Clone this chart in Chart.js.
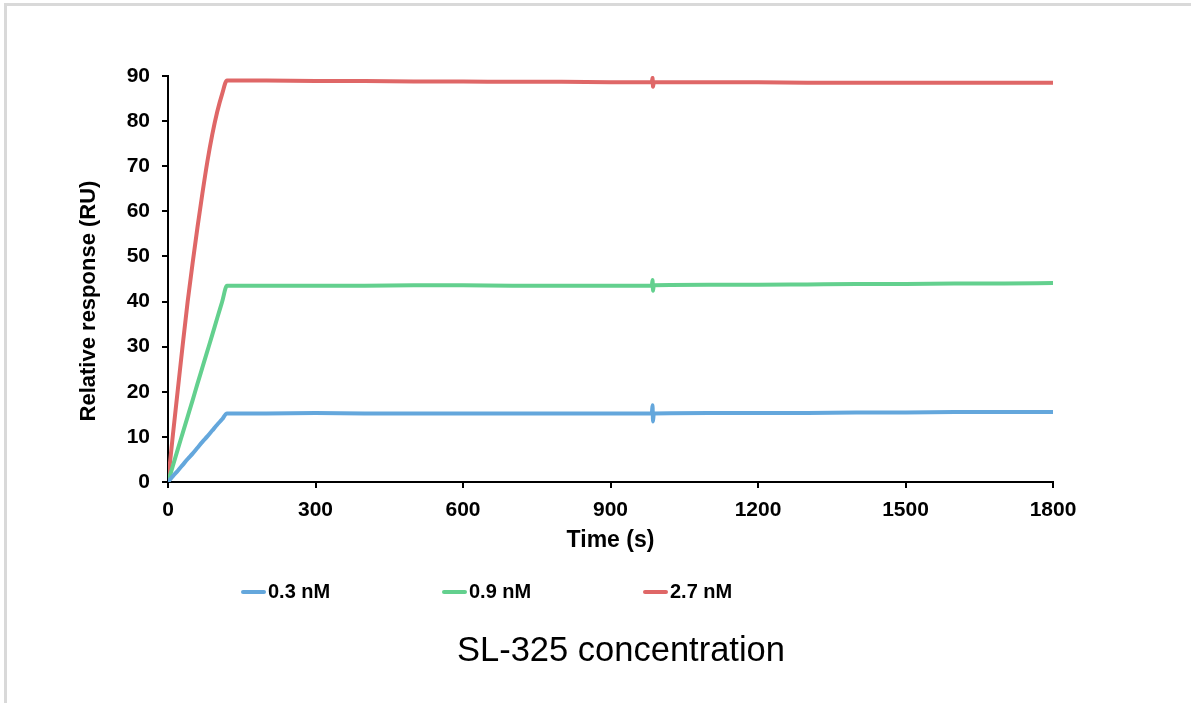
<!DOCTYPE html>
<html>
<head>
<meta charset="utf-8">
<script src="https://cdn.jsdelivr.net/npm/chart.js@4"></script>
<style>
  body { margin: 0; background: #fff; font-family: "Liberation Sans", Arial, sans-serif; }
  #wrap { position: relative; width: 1191px; height: 703px; overflow: hidden; }
  #frame { position: absolute; left: 4px; top: 3px; width: 1200px; height: 697px; border: 3px solid #d9d9d9; border-right: none; }
  canvas { position: absolute; left: 0; top: 0; }
  #legend { position: absolute; top: 578px; left: 0; width: 1191px; height: 26px; }
  .item { position: absolute; top: 0; font-weight: bold; font-size: 20px; line-height: 26px; color: #000; }
  .item span.sw { display: inline-block; width: 25px; height: 4px; border-radius: 2px; vertical-align: middle; margin-right: 2px; position: relative; top: -1px; }
  #sub { position: absolute; top: 630px; left: 0; width: 1242px; text-align: center; font-size: 34.5px; color: #000; }
</style>
</head>
<body>
<div id="wrap">
  <div id="frame"></div>
  <canvas id="myChart" width="1191" height="703"></canvas>
  <div id="legend"></div>
  <div id="sub">SL-325 concentration</div>
</div>
<script>
const times = [0, 10, 20, 30, 40, 50, 60, 70, 80, 90, 100, 110, 120, 200, 300, 400, 500, 600, 700, 800, 900, 984, 985.5, 986.5, 988, 1100, 1200, 1300, 1400, 1500, 1600, 1700, 1800];

const low = [0, 1.3, 2.5, 3.8, 5.1, 6.3, 7.6, 8.9, 10.1, 11.4, 12.7, 13.9, 15.2, 15.2, 15.3, 15.2, 15.2, 15.2, 15.2, 15.2, 15.2, 15.2, 17.0, 13.4, 15.2, 15.3, 15.3, 15.3, 15.4, 15.4, 15.5, 15.5, 15.5];
const mid = [0, 3.6, 7.3, 10.9, 14.5, 18.1, 21.8, 25.4, 29.0, 32.6, 36.3, 39.9, 43.5, 43.5, 43.5, 43.5, 43.6, 43.6, 43.5, 43.5, 43.5, 43.5, 44.8, 42.4, 43.6, 43.7, 43.7, 43.8, 43.9, 43.9, 44.0, 44.0, 44.1];
const high = [0, 10.5, 20.5, 30.5, 40, 48.5, 56.5, 64, 71, 77, 82, 86, 89.0, 89.0, 88.9, 88.9, 88.8, 88.8, 88.7, 88.7, 88.6, 88.6, 89.6, 87.6, 88.6, 88.6, 88.6, 88.5, 88.5, 88.5, 88.5, 88.5, 88.5];

const labels = ['0.3 nM', '0.9 nM', '2.7 nM'];
const colors = ['#64a7dc', '#63d08e', '#df6767'];
const yTicks = [0, 10, 20, 30, 40, 50, 60, 70, 80, 90];
const xTicks = [0, 300, 600, 900, 1200, 1500, 1800];

const series = [low, mid, high];

const chartData = {
  datasets: series.map((vals, i) => ({
    label: labels[i],
    data: times.map((t, j) => ({ x: t, y: vals[j] })),
    borderColor: colors[i],
    borderWidth: 4,
    pointRadius: 0,
    cubicInterpolationMode: 'monotone',
    fill: false
  }))
};

const axisFont = { family: 'Liberation Sans', size: 21, weight: 'bold' };
const titleFont = { family: 'Liberation Sans', size: 23, weight: 'bold' };

// y axis title drawn a bit below the middle, like the original
const yTitle = {
  id: 'yTitle',
  afterDraw(chart) {
    const c = chart.ctx;
    c.save();
    c.translate(89, 301);
    c.rotate(-Math.PI / 2);
    c.font = 'bold 22px "Liberation Sans"';
    c.fillStyle = '#000';
    c.textAlign = 'center';
    c.textBaseline = 'middle';
    c.fillText('Relative response (RU)', 0, 0);
    c.restore();
  }
};

const ctx = document.getElementById('myChart').getContext('2d');
const myChart = new Chart(ctx, {
  type: 'line',
  data: chartData,
  plugins: [yTitle],
  options: {
    responsive: false,
    animation: false,
    layout: { padding: { left: 77, top: 76, right: 138, bottom: 149 } },
    plugins: {
      legend: { display: false },
      tooltip: { enabled: false }
    },
    scales: {
      x: {
        type: 'linear',
        min: 0,
        max: 1800,
        afterFit: s => { s.height = 72; },
        afterBuildTicks: s => { s.ticks = xTicks.map(v => ({ value: v })); },
        grid: { drawOnChartArea: false, drawTicks: true, tickLength: 6, color: '#000', lineWidth: 2 },
        border: { color: '#000', width: 2 },
        ticks: { color: '#000', font: axisFont, padding: 10, maxRotation: 0, callback: v => String(v) },
        title: { display: true, text: 'Time (s)', color: '#000', font: titleFont, padding: 0 }
      },
      y: {
        min: 0,
        max: 90,
        afterFit: s => { s.width = 91; },
        afterBuildTicks: s => { s.ticks = yTicks.map(v => ({ value: v })); },
        grid: { drawOnChartArea: false, drawTicks: true, tickLength: 6, color: '#000', lineWidth: 2 },
        border: { color: '#000', width: 2 },
        ticks: { color: '#000', font: axisFont, padding: 12, callback: v => String(v) },
        title: { display: false }
      }
    }
  }
});

// legend as html
const legendPos = [241, 442, 643];
const legendEl = document.getElementById('legend');
labels.forEach((lab, i) => {
  const d = document.createElement('div');
  d.className = 'item';
  d.style.left = legendPos[i] + 'px';
  d.innerHTML = '<span class="sw" style="background:' + colors[i] + '"></span>' + lab;
  legendEl.appendChild(d);
});
</script>
</body>
</html>
